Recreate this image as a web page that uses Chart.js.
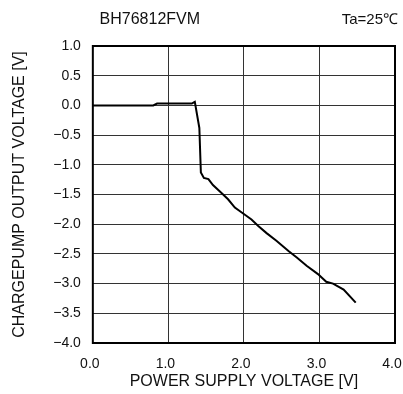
<!DOCTYPE html>
<html>
<head>
<meta charset="utf-8">
<script src="https://cdn.jsdelivr.net/npm/chart.js@4.4.1/dist/chart.umd.min.js"></script>
<style>
html,body{margin:0;padding:0;background:#fff;}
#wrap{width:403px;height:394px;position:relative;}
</style>
</head>
<body>
<div id="wrap"><canvas id="c" width="403" height="394"></canvas></div>
<script>
const supplyVoltage = [0.00, 0.80, 0.85, 1.31, 1.35, 1.41, 1.43, 1.47, 1.53, 1.59, 1.70, 1.79, 1.88, 1.99, 2.10, 2.19, 2.30, 2.43, 2.59, 2.70, 2.83, 2.98, 3.09, 3.18, 3.32, 3.48];
const outputVoltage = [0.00, 0.00, 0.03, 0.03, 0.06, -0.38, -1.13, -1.22, -1.24, -1.34, -1.47, -1.58, -1.72, -1.82, -1.92, -2.03, -2.15, -2.28, -2.45, -2.56, -2.70, -2.84, -2.97, -3.00, -3.10, -3.32];
const xTickValues = [0, 1, 2, 3, 4];
const yRange = [-4.0, 1.0];
const chartTitle = 'BH76812FVM';
const conditionLabel = 'Ta=25\u2103';
const xTitle = 'POWER SUPPLY VOLTAGE [V]';
const yTitle = 'CHARGEPUMP OUTPUT VOLTAGE [V]';

const FONT = "'Liberation Sans', Arial, Helvetica, sans-serif";
const fmt = v => (v < 0 ? '\u2212' : '') + Math.abs(v).toFixed(1);
const noEdgePad = s => { s.paddingLeft = 0; s.paddingRight = 0; s.paddingTop = 0; s.paddingBottom = 0; };

const framePlugin = {
  id: 'frame',
  afterDatasetsDraw(chart) {
    const {ctx, chartArea: a} = chart;
    ctx.save();
    ctx.strokeStyle = '#000';
    ctx.lineWidth = 2;
    ctx.strokeRect(a.left, a.top, a.right - a.left, a.bottom - a.top);
    ctx.restore();
  },
  afterDraw(chart) {
    const {ctx, chartArea: a} = chart;
    ctx.save();
    ctx.fillStyle = '#111';
    ctx.textBaseline = 'middle';
    ctx.font = '16px ' + FONT;
    ctx.textAlign = 'center';
    ctx.fillText(chartTitle, a.left + 57, a.top - 26);
    ctx.font = '15px ' + FONT;
    ctx.textAlign = 'right';
    ctx.fillText(conditionLabel, a.right + 3, a.top - 26);
    ctx.restore();
  }
};

new Chart(document.getElementById('c'), {
  type: 'line',
  data: {
    datasets: [{
      data: supplyVoltage.map((x, i) => ({x, y: outputVoltage[i]})),
      borderColor: '#000',
      borderWidth: 2,
      pointRadius: 0,
      tension: 0,
      fill: false
    }]
  },
  options: {
    responsive: false,
    animation: false,
    devicePixelRatio: 1,
    layout: {padding: {top: 46, right: 8, left: 10, bottom: 3}},
    plugins: {legend: {display: false}, tooltip: {enabled: false}, title: {display: false}},
    scales: {
      x: {
        type: 'linear',
        min: xTickValues[0],
        max: xTickValues[xTickValues.length - 1],
        afterBuildTicks: s => { s.ticks = xTickValues.map(v => ({value: v})); },
        afterFit: noEdgePad,
        ticks: {callback: v => fmt(v), color: '#111', font: {family: FONT, size: 14}, padding: 13, maxRotation: 0, labelOffset: -3},
        grid: {color: '#333', lineWidth: 1, drawTicks: false},
        border: {display: false},
        title: {display: true, text: xTitle, color: '#111', font: {family: FONT, size: 16}, padding: {top: -14, bottom: 0}}
      },
      y: {
        type: 'linear',
        min: yRange[0],
        max: yRange[1],
        afterFit: noEdgePad,
        ticks: {stepSize: 0.5, callback: v => fmt(v), color: '#111', font: {family: FONT, size: 14}, padding: 12},
        grid: {color: '#333', lineWidth: 1, drawTicks: false},
        border: {display: false},
        title: {display: true, text: yTitle, color: '#111', font: {family: FONT, size: 16}, padding: {top: 0, bottom: 12}}
      }
    }
  },
  plugins: [framePlugin]
});
</script>
</body>
</html>
